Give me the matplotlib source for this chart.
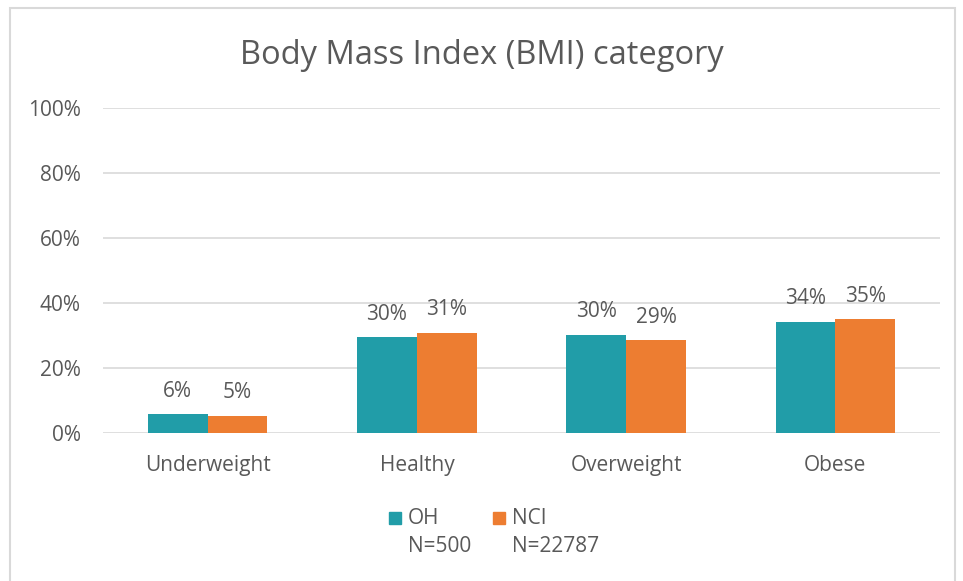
import matplotlib.pyplot as plt
from matplotlib.patches import Rectangle
import numpy as np

categories = ['Underweight', 'Healthy', 'Overweight', 'Obese']
oh_values = [5.7, 29.5, 30.2, 34.3]
nci_values = [5.3, 30.9, 28.6, 35.0]
series_names = ['OH', 'NCI']
series_n = ['N=500', 'N=22787']
y_ticks = [0, 20, 40, 60, 80, 100]

plt.rcParams['font.family'] = ['Open Sans', 'DejaVu Sans']
grey = '#595959'
teal = '#219DA8'
orange = '#ED7D31'
colors = [teal, orange]
fs = 15

fig = plt.figure(figsize=(9.63, 5.81), dpi=100)
fig.patches.append(Rectangle((10 / 963, -0.05), 945 / 963, 1.05 - 8 / 581,
                             transform=fig.transFigure, fill=False,
                             edgecolor='#d9d9d9', linewidth=1.5))
ax = fig.add_axes([103 / 963, 1 - 433 / 581, 837 / 963, 325 / 581])

x = np.arange(len(categories))
w = 0.286
b1 = ax.bar(x - w / 2, oh_values, w, color=teal)
b2 = ax.bar(x + w / 2, nci_values, w, color=orange)

for bars, vals in ((b1, oh_values), (b2, nci_values)):
    for bar, v in zip(bars, vals):
        ax.annotate(f'{v:.0f}%', (bar.get_x() + bar.get_width() / 2, v),
                    xytext=(0, 9), textcoords='offset points',
                    ha='center', va='bottom', fontsize=fs, color=grey)

ax.set_xlim(-0.5, 3.5)
ax.set_ylim(0, 100)
ax.set_yticks(y_ticks)
ax.set_yticklabels([f'{t}%' for t in y_ticks])
ax.set_xticks(x)
ax.set_xticklabels(categories)
ax.tick_params(length=0, labelsize=fs, labelcolor=grey)
ax.tick_params(axis='y', pad=16)
ax.tick_params(axis='x', pad=16)
ax.grid(axis='y', color='#d9d9d9', linewidth=1.2)
ax.set_axisbelow(True)
for s in ax.spines.values():
    s.set_visible(False)

fig.text(0.5, 1 - 55 / 581, 'Body Mass Index (BMI) category', ha='center',
         va='center', fontsize=23.5, color=grey)

# legend drawn by hand: colour square, name, and sample size underneath
for i, (name, n, c) in enumerate(zip(series_names, series_n, colors)):
    x0 = 389 + i * 104
    fig.patches.append(Rectangle((x0 / 963, 1 - 524 / 581), 12 / 963, 12 / 581,
                                 transform=fig.transFigure, color=c))
    fig.text((x0 + 19) / 963, 1 - 518 / 581, name, ha='left', va='center',
             fontsize=fs, color=grey)
    fig.text((x0 + 19) / 963, 1 - 547 / 581, n, ha='left', va='center',
             fontsize=fs, color=grey)

fig.savefig('out.png', dpi=100)
